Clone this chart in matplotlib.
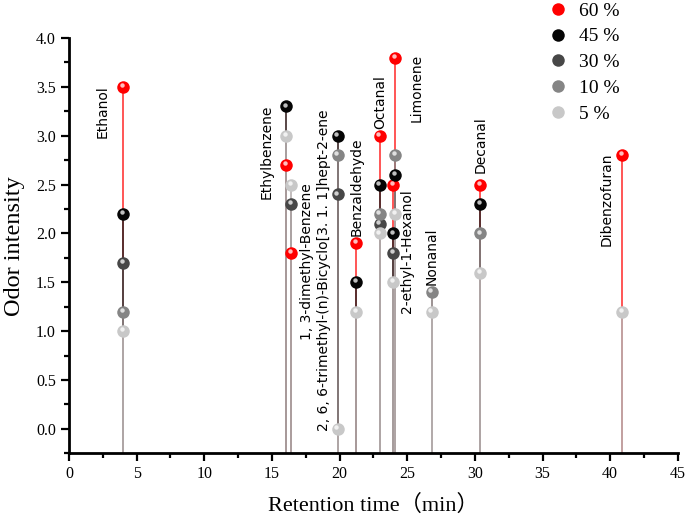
import matplotlib

matplotlib.use("Agg")
import matplotlib.pyplot as plt
import matplotlib.transforms as mtransforms
from matplotlib.lines import Line2D
from matplotlib.ticker import MultipleLocator, FormatStrFormatter
import numpy as np

nan = np.nan

compounds = ["Ethanol", "Ethylbenzene", "1, 3-dimethyl-Benzene",
             "2, 6, 6-trimethyl-(n)-Bicyclo[3. 1. 1]hept-2-ene",
             "Benzaldehyde", "Octanal", "Limonene", "2-ethyl-1-Hexanol",
             "Nonanal", "Decanal", "Dibenzofuran"]
retention = [4.0, 16.05, 16.4, 19.85, 21.2, 22.95, 24.08, 23.93, 26.8, 30.4, 40.85]

series_names = ["60 %", "45 %", "30 %", "10 %", "5 %"]
v60 = [3.5, 2.7, 1.8, nan, 1.9, 3.0, 3.8, 2.5, nan, 2.5, 2.8]
v45 = [2.2, 3.3, nan, 3.0, 1.5, 2.5, 2.6, 2.0, nan, 2.3, nan]
v30 = [1.7, nan, 2.3, 2.4, nan, 2.1, nan, 1.8, nan, nan, nan]
v10 = [1.2, nan, nan, 2.8, nan, 2.2, 2.8, nan, 1.4, 2.0, nan]
v5 = [1.0, 3.0, 2.5, 0.0, 1.2, 2.0, 2.2, 1.5, 1.2, 1.6, 1.2]
series_vals = [v60, v45, v30, v10, v5]

# styling
MARKER_C = ["#ff0000", "#050505", "#474747", "#858585", "#c8c8c8"]
STEM_C = ["#ff3838", "#3c2828", "#584848", "#8c8282", "#b8b0b0"]

# label anchor (x, y, vertical alignment) per compound
label_pos = [(2.5, 3.52, "top"), (14.6, 3.32, "top"), (17.57, 2.51, "top"),
             (18.85, 3.27, "top"), (21.26, 1.97, "bottom"), (22.99, 3.07, "bottom"),
             (25.7, 3.84, "top"), (24.96, 2.45, "top"), (26.81, 1.47, "bottom"),
             (30.43, 2.62, "bottom"), (39.74, 2.83, "top")]

YMIN = -0.25
SERIF = ["Liberation Serif", "DejaVu Serif"]

plt.rcParams["font.family"] = SERIF

fig = plt.figure(figsize=(6.85, 5.18), dpi=100)
ax = fig.add_axes([69 / 685, 1 - 453.3 / 518, (677.9 - 69) / 685, (453.3 - 38) / 518])

x = np.array(retention)
for i, vals in enumerate(series_vals):
    v = np.array(vals, dtype=float)
    ok = ~np.isnan(v)
    ax.vlines(x[ok], YMIN, v[ok], color=STEM_C[i], lw=1.2, zorder=2 + i * 0.01)

hl = mtransforms.offset_copy(ax.transData, fig=fig, x=-1.2, y=1.8, units="dots")
for i, vals in enumerate(series_vals):
    v = np.array(vals, dtype=float)
    ok = ~np.isnan(v)
    ax.plot(x[ok], v[ok], "o", ms=9, color=MARKER_C[i], mec="none", zorder=5)
    ax.plot(x[ok], v[ok], "o", ms=3.2, color="white", alpha=0.75, mec="none",
            zorder=6, transform=hl)

for name, (lx, ly, va) in zip(compounds, label_pos):
    ax.text(lx, ly, name, rotation=90, ha="center", va=va, fontsize=10,
            family="DejaVu Sans", color="black", zorder=7)

ax.set_xlim(0, 45)
ax.set_ylim(YMIN, 4.0)
ax.xaxis.set_major_locator(MultipleLocator(5))
ax.xaxis.set_minor_locator(MultipleLocator(2.5))
ax.yaxis.set_minor_locator(MultipleLocator(0.25))
ax.set_yticks(np.arange(0, 4.01, 0.5))
ax.yaxis.set_major_formatter(FormatStrFormatter("%.1f"))
for side in ("top", "right"):
    ax.spines[side].set_visible(False)
for side in ("left", "bottom"):
    ax.spines[side].set_linewidth(2)
ax.tick_params(which="major", direction="out", length=6, width=1.6, labelsize=11.5)
ax.tick_params(which="minor", direction="out", length=3.5, width=1.6)

ax.set_xlabel("Retention time（min）", fontsize=16, family=SERIF + ["Noto Sans CJK SC"],
              labelpad=9)
ax.set_ylabel("Odor intensity", fontsize=17.5, labelpad=8)

handles = [Line2D([], [], ls="none", marker="o", ms=9, color=c, mec="none")
           for c in MARKER_C]
fig.legend(handles, series_names, loc="upper left", bbox_to_anchor=(0.775, 1.03),
           frameon=False, fontsize=14, handletextpad=0.6, labelspacing=0.42,
           handlelength=1.0)

fig.savefig("out.png", dpi=100)
